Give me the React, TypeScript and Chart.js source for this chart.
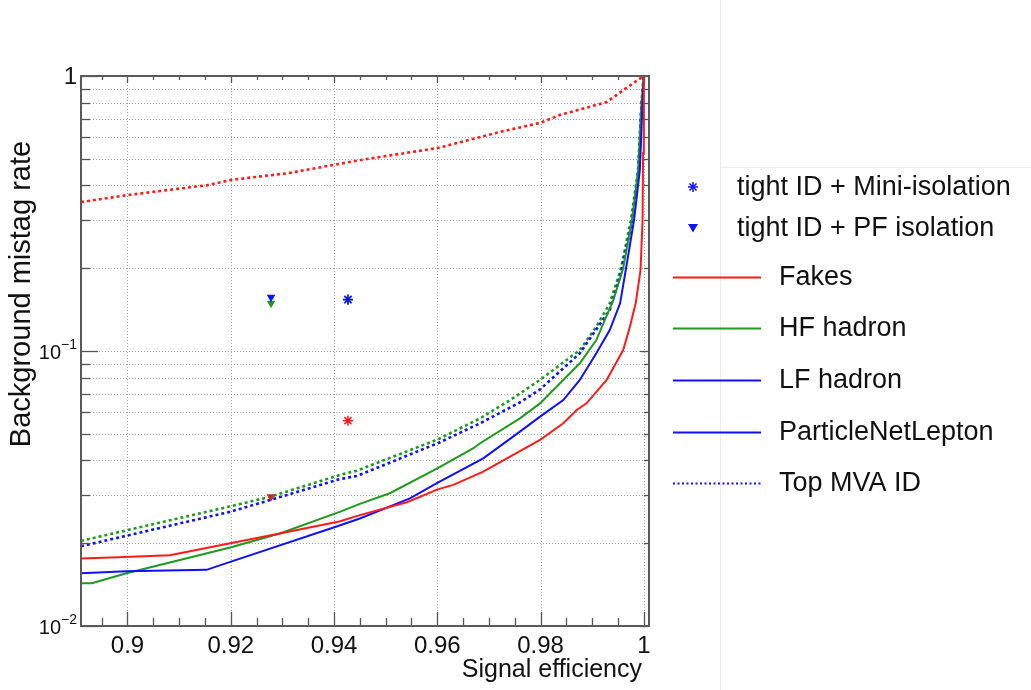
import React, { useEffect, useRef } from 'react';
import { Chart, registerables } from 'chart.js';

Chart.register(...registerables);

// ---------- axes ----------
const X_MIN = 0.891;
const X_MAX = 1.001;
const Y_MIN = 0.01;
const Y_MAX = 1;
const xMajorTicks = [0.9, 0.92, 0.94, 0.96, 0.98, 1.0];
const xTickLabels = ['0.9', '0.92', '0.94', '0.96', '0.98', '1'];
const xMinorTicks = [0.895, 0.905, 0.91, 0.915, 0.925, 0.93, 0.935, 0.945, 0.95, 0.955, 0.965, 0.97, 0.975, 0.985, 0.99, 0.995];
const yDecades = [0.01, 0.1, 1];
const yDecadeBase = ['10', '10', '1'];
const yDecadeExp = ['−2', '−1', ''];
const yMinorTicks = [0.02, 0.03, 0.04, 0.05, 0.06, 0.07, 0.08, 0.09, 0.2, 0.3, 0.4, 0.5, 0.6, 0.7, 0.8, 0.9];
const xTitle = 'Signal efficiency';
const yTitle = 'Background mistag rate';

// ---------- ParticleNetLepton (solid) ----------
const effFakesPnl = [0.891, 0.8982, 0.9082, 0.9199, 0.9295, 0.941, 0.945, 0.9541, 0.9601, 0.9631, 0.9689, 0.9741, 0.9799, 0.9844, 0.987, 0.9889, 0.9928, 0.996, 0.9973, 0.99845, 0.99936, 0.99975, 0.99986, 1.0];
const rateFakesPnl = [0.0176, 0.0178, 0.0181, 0.02, 0.0217, 0.024, 0.0253, 0.0282, 0.0314, 0.0326, 0.0364, 0.0413, 0.0475, 0.0546, 0.061, 0.0645, 0.0785, 0.1008, 0.1226, 0.15, 0.197, 0.299, 0.525, 1.0];

const effHfPnl = [0.891, 0.8931, 0.8998, 0.9199, 0.9295, 0.9411, 0.945, 0.9508, 0.9601, 0.967, 0.9683, 0.976, 0.9799, 0.9876, 0.9908, 0.9941, 0.996, 0.9977, 0.9989, 0.99955, 1.0];
const rateHfPnl = [0.0143, 0.0143, 0.01555, 0.0193, 0.0217, 0.026, 0.0278, 0.0304, 0.0375, 0.0443, 0.0462, 0.0569, 0.0645, 0.0902, 0.1096, 0.1533, 0.2, 0.3, 0.455, 0.8, 1.0];

const effLfPnl = [0.891, 0.8998, 0.9153, 0.9199, 0.9405, 0.945, 0.9547, 0.9601, 0.9689, 0.976, 0.9799, 0.9844, 0.9876, 0.9908, 0.9934, 0.9954, 0.9965, 0.9981, 0.99923, 0.99975, 1.0];
const rateLfPnl = [0.01555, 0.0158, 0.016, 0.0171, 0.023, 0.0246, 0.0291, 0.0332, 0.0407, 0.0509, 0.0577, 0.0663, 0.0785, 0.0981, 0.1192, 0.1491, 0.197, 0.299, 0.455, 0.798, 1.0];

// ---------- Top MVA ID (dotted) ----------
const effFakesMva = [0.891, 0.9, 0.9155, 0.9201, 0.931, 0.9452, 0.96, 0.9721, 0.9799, 0.9837, 0.9928, 0.9988, 1.0];
const rateFakesMva = [0.348, 0.369, 0.401, 0.419, 0.443, 0.495, 0.547, 0.626, 0.675, 0.721, 0.804, 0.967, 1.0];

const effHfMva = [0.891, 0.9198, 0.9276, 0.9411, 0.9444, 0.9601, 0.9683, 0.9741, 0.9799, 0.9876, 0.9908, 0.9934, 0.9955, 0.9975, 0.9989, 0.99955, 1.0];
const rateHfMva = [0.0204, 0.0272, 0.0295, 0.0354, 0.0367, 0.0477, 0.0569, 0.0663, 0.0785, 0.1008, 0.1226, 0.1491, 0.197, 0.299, 0.455, 0.8, 1.0];

const effLfMva = [0.891, 0.9198, 0.9276, 0.9411, 0.9444, 0.9601, 0.9683, 0.976, 0.9799, 0.9876, 0.9934, 0.9955, 0.9976, 0.9989, 0.99955, 1.0];
const rateLfMva = [0.0195, 0.026, 0.0287, 0.0342, 0.0351, 0.0462, 0.0546, 0.065, 0.0725, 0.0981, 0.141, 0.19, 0.29, 0.445, 0.79, 1.0];

// ---------- tight ID working points ----------
const miniIsoEff = 0.9427;
const miniIsoRateFakes = 0.0558;
const miniIsoRateHf = 0.1535;
const miniIsoRateLf = 0.154;
const pfIsoEff = 0.9278;
const pfIsoRateFakes = 0.0295;
const pfIsoRateHf = 0.1491;
const pfIsoRateLf = 0.1568;

// ---------- legend ----------
const legendLabels = ['tight ID + Mini-isolation', 'tight ID + PF isolation', 'Fakes', 'HF hadron', 'LF hadron', 'ParticleNetLepton', 'Top MVA ID'];

const RED = '#ff1a1a';
const GREEN = '#1f9a1f';
const BLUE = '#1010ff';
const FONT = '"Liberation Sans", Arial, Helvetica, sans-serif';

const pts = (xs: number[], ys: number[]) => xs.map((x, i) => ({ x, y: ys[i] }));

function drawStar(ctx: CanvasRenderingContext2D, cx: number, cy: number, r: number, color: string) {
  ctx.save();
  ctx.strokeStyle = color;
  ctx.lineWidth = 1.5;
  ctx.setLineDash([]);
  for (let k = 0; k < 4; k++) {
    const a = (k * Math.PI) / 4;
    ctx.beginPath();
    ctx.moveTo(cx - r * Math.cos(a), cy - r * Math.sin(a));
    ctx.lineTo(cx + r * Math.cos(a), cy + r * Math.sin(a));
    ctx.stroke();
  }
  ctx.restore();
}

function drawTriDown(ctx: CanvasRenderingContext2D, cx: number, cy: number, r: number, color: string) {
  ctx.save();
  ctx.fillStyle = color;
  ctx.beginPath();
  ctx.moveTo(cx - r, cy - r * 0.8);
  ctx.lineTo(cx + r, cy - r * 0.8);
  ctx.lineTo(cx, cy + r * 0.9);
  ctx.closePath();
  ctx.fill();
  ctx.restore();
}

const rootFrame = {
  id: 'rootFrame',
  beforeDatasetsDraw(chart: any) {
    const { ctx, chartArea: a, scales } = chart;
    const xs = scales.x;
    const ys = scales.y;
    ctx.save();
    // faint pad outlines on the right
    ctx.strokeStyle = '#ececec';
    ctx.lineWidth = 1;
    ctx.beginPath();
    ctx.moveTo(720.5, 0);
    ctx.lineTo(720.5, 690);
    ctx.moveTo(720, 167.5);
    ctx.lineTo(1031, 167.5);
    ctx.stroke();
    // dotted grid
    ctx.strokeStyle = '#a0a0a0';
    ctx.lineWidth = 1;
    ctx.setLineDash([1, 2]);
    for (const v of xMajorTicks) {
      const px = Math.round(xs.getPixelForValue(v)) + 0.5;
      ctx.beginPath();
      ctx.moveTo(px, a.top);
      ctx.lineTo(px, a.bottom);
      ctx.stroke();
    }
    for (const v of [...yMinorTicks, 0.1]) {
      const py = Math.round(ys.getPixelForValue(v)) + 0.5;
      ctx.beginPath();
      ctx.moveTo(a.left, py);
      ctx.lineTo(a.right, py);
      ctx.stroke();
    }
    ctx.restore();
  },
  afterDatasetsDraw(chart: any) {
    const { ctx, chartArea: a, scales } = chart;
    const xs = scales.x;
    const ys = scales.y;
    ctx.save();
    ctx.setLineDash([]);
    // ticks
    ctx.strokeStyle = '#555';
    ctx.lineWidth = 1.3;
    const tick = (x1: number, y1: number, x2: number, y2: number) => {
      ctx.beginPath();
      ctx.moveTo(x1, y1);
      ctx.lineTo(x2, y2);
      ctx.stroke();
    };
    for (const v of xMajorTicks) {
      const px = Math.round(xs.getPixelForValue(v)) + 0.5;
      tick(px, a.bottom, px, a.bottom - 14);
      tick(px, a.top, px, a.top + 7);
    }
    for (const v of xMinorTicks) {
      const px = Math.round(xs.getPixelForValue(v)) + 0.5;
      tick(px, a.bottom, px, a.bottom - 8);
      tick(px, a.top, px, a.top + 4);
    }
    for (const v of yDecades) {
      const py = Math.round(ys.getPixelForValue(v)) + 0.5;
      tick(a.left, py, a.left + 17, py);
      tick(a.right, py, a.right - 9, py);
    }
    for (const v of yMinorTicks) {
      const py = Math.round(ys.getPixelForValue(v)) + 0.5;
      tick(a.left, py, a.left + 9, py);
      tick(a.right, py, a.right - 5, py);
    }
    // frame
    ctx.strokeStyle = '#5a5a5a';
    ctx.lineWidth = 2;
    ctx.strokeRect(a.left, a.top, a.right - a.left, a.bottom - a.top);

    // tick labels
    ctx.fillStyle = '#111';
    ctx.font = `24px ${FONT}`;
    ctx.textAlign = 'center';
    ctx.textBaseline = 'alphabetic';
    xMajorTicks.forEach((v, i) => {
      ctx.fillText(xTickLabels[i], xs.getPixelForValue(v), 653);
    });
    yDecades.forEach((v, i) => {
      const py = ys.getPixelForValue(v);
      const exp = yDecadeExp[i];
      if (exp) {
        ctx.font = `14px ${FONT}`;
        ctx.textAlign = 'right';
        const ew = ctx.measureText(exp).width;
        ctx.fillText(exp, 77, py - 2);
        ctx.font = `20px ${FONT}`;
        ctx.fillText(yDecadeBase[i], 77 - ew, py + 8);
      } else {
        ctx.font = `24px ${FONT}`;
        ctx.textAlign = 'right';
        ctx.fillText(yDecadeBase[i], 77, py + 8);
      }
    });
    // axis titles
    ctx.font = `25px ${FONT}`;
    ctx.textAlign = 'right';
    ctx.fillText(xTitle, 642, 677);
    ctx.save();
    ctx.translate(30, 294);
    ctx.rotate(-Math.PI / 2);
    ctx.font = `29px ${FONT}`;
    ctx.textAlign = 'center';
    ctx.fillText(yTitle, 0, 0);
    ctx.restore();

    // legend
    const rowsY = [187, 228, 277, 328, 380, 432, 483];
    ctx.font = `27px ${FONT}`;
    ctx.textAlign = 'left';
    ctx.textBaseline = 'middle';
    ctx.fillStyle = '#111';
    drawStar(ctx, 693, rowsY[0], 5, BLUE);
    drawTriDown(ctx, 693, rowsY[1], 5, BLUE);
    ctx.fillText(legendLabels[0], 737, rowsY[0] + 1);
    ctx.fillText(legendLabels[1], 737, rowsY[1] + 1);
    const lineCols = [RED, GREEN, BLUE, BLUE, BLUE];
    for (let k = 0; k < 5; k++) {
      const ly = rowsY[k + 2] + 0.5;
      ctx.save();
      ctx.strokeStyle = lineCols[k];
      ctx.lineWidth = 2;
      if (k === 4) ctx.setLineDash([2, 2.5]);
      ctx.beginPath();
      ctx.moveTo(673, ly);
      ctx.lineTo(761, ly);
      ctx.stroke();
      ctx.restore();
      ctx.fillText(legendLabels[k + 2], 779, rowsY[k + 2] + 1);
    }
    ctx.restore();
  },
};

export default function App() {
  const ref = useRef<HTMLCanvasElement | null>(null);
  useEffect(() => {
    if (!ref.current) return;
    const solid = (label: string, xs: number[], ys: number[], color: string) => ({
      type: 'line' as const,
      label,
      data: pts(xs, ys),
      borderColor: color,
      backgroundColor: color,
      borderWidth: 2,
      pointRadius: 0,
      tension: 0,
      fill: false,
    });
    const dotted = (label: string, xs: number[], ys: number[], color: string) => ({
      ...solid(label, xs, ys, color),
      borderWidth: 2.6,
      borderDash: [3, 3],
    });
    const chart = new Chart(ref.current, {
      type: 'line',
      data: {
        datasets: [
          {
            label: 'tight ID + Mini-isolation',
            data: [
              { x: miniIsoEff, y: miniIsoRateFakes },
              { x: miniIsoEff, y: miniIsoRateHf },
              { x: miniIsoEff, y: miniIsoRateLf },
            ],
            showLine: false,
            pointStyle: 'star',
            pointRadius: 5,
            pointBorderWidth: 1.5,
            pointBorderColor: [RED, GREEN, BLUE],
            pointBackgroundColor: [RED, GREEN, BLUE],
          } as any,
          {
            label: 'tight ID + PF isolation',
            data: [
              { x: pfIsoEff, y: pfIsoRateFakes },
              { x: pfIsoEff, y: pfIsoRateHf },
              { x: pfIsoEff, y: pfIsoRateLf },
            ],
            showLine: false,
            pointStyle: 'triangle',
            rotation: 180,
            pointRadius: 5,
            pointBorderWidth: 0,
            pointBorderColor: [RED, GREEN, BLUE],
            pointBackgroundColor: ['#c0301a', GREEN, BLUE],
          } as any,
          solid('Fakes PNL', effFakesPnl, rateFakesPnl, RED),
          solid('LF hadron PNL', effLfPnl, rateLfPnl, BLUE),
          solid('HF hadron PNL', effHfPnl, rateHfPnl, GREEN),
          dotted('Fakes Top MVA', effFakesMva, rateFakesMva, RED),
          dotted('LF hadron Top MVA', effLfMva, rateLfMva, BLUE),
          dotted('HF hadron Top MVA', effHfMva, rateHfMva, GREEN),
        ],
      },
      options: {
        animation: false,
        responsive: false,
        layout: { padding: { left: 81, right: 382, top: 76, bottom: 64 } },
        scales: {
          x: { type: 'linear', min: X_MIN, max: X_MAX, display: false },
          y: { type: 'logarithmic', min: Y_MIN, max: Y_MAX, display: false },
        },
        plugins: { legend: { display: false }, tooltip: { enabled: false }, title: { display: false } },
      },
      plugins: [rootFrame],
    } as any);
    return () => chart.destroy();
  }, []);
  return (
    <div style={{ position: 'absolute', left: 0, top: 0, width: 1031, height: 690, background: '#fff' }}>
      <canvas ref={ref} width={1031} height={690} style={{ display: 'block', width: 1031, height: 690 }} />
    </div>
  );
}
